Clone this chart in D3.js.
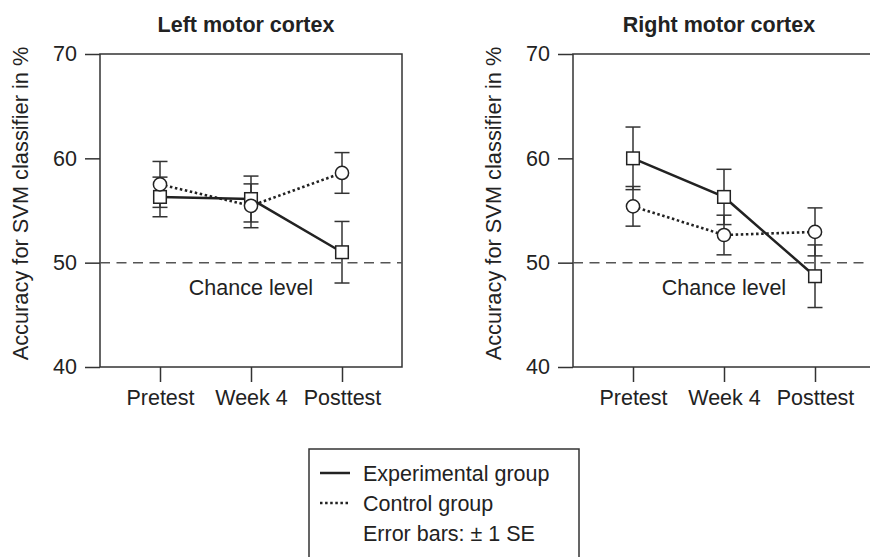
<!DOCTYPE html>
<html>
<head>
<meta charset="utf-8">
<script src="https://cdn.jsdelivr.net/npm/d3@7"></script>
<style>
  body { margin: 0; background: #fff; }
  svg text { font-family: "Liberation Sans", Arial, sans-serif; fill: #222; }
</style>
</head>
<body>
<svg class="chart" width="870" height="557"></svg>
<script>
// values
var phases = ["Pretest", "Week 4", "Posttest"];
var yTicks = [40, 50, 60, 70];
var chance = 50;

var leftExpMean  = [56.3, 56.1, 51.0],
    leftExpSE    = [1.9, 2.2, 2.95],
    leftCtrlMean = [57.5, 55.45, 58.6],
    leftCtrlSE   = [2.2, 2.1, 1.95];

var rightExpMean  = [60.0, 56.3, 48.7],
    rightExpSE    = [3.0, 2.65, 3.0],
    rightCtrlMean = [55.4, 52.65, 52.95],
    rightCtrlSE   = [1.9, 1.9, 2.3];

var panelTitles = ["Left motor cortex", "Right motor cortex"];
var yLabel = "Accuracy for SVM classifier in %";
var legendLabels = ["Experimental group", "Control group", "Error bars: \u00b1 1 SE"];

var svg = d3.select("svg.chart"),
    ink = "#222",
    fs = "21.5px";

var plotTop = 54, plotBottom = 367, boxW = 302;

var y = d3.scaleLinear().domain([40, 70]).range([plotBottom, plotTop]);

function drawPanel(x0, title, expMean, expSE, ctrlMean, ctrlSE){
  var g = svg.append("g");
  var x = d3.scalePoint().domain(phases).range([x0 + 60, x0 + 242]);

  // box
  g.append("rect")
    .attr("x", x0).attr("y", plotTop)
    .attr("width", boxW).attr("height", plotBottom - plotTop)
    .attr("fill", "none").attr("stroke", "#333").attr("stroke-width", 1.5);

  // axes
  var ya = g.append("g").attr("transform", "translate(" + x0 + ",0)")
    .call(d3.axisLeft(y).tickValues(yTicks).tickSize(15).tickPadding(8));
  var xa = g.append("g").attr("transform", "translate(0," + plotBottom + ")")
    .call(d3.axisBottom(x).tickSize(15).tickPadding(8));
  [ya, xa].forEach(function(a){
    a.select(".domain").remove();
    a.selectAll("line").attr("stroke", "#333").attr("stroke-width", 1.5);
    a.selectAll("text").attr("font-size", fs).attr("fill", ink)
      .attr("font-family", "Liberation Sans, Arial, sans-serif");
  });

  // chance level
  g.append("line")
    .attr("x1", x0).attr("x2", x0 + boxW)
    .attr("y1", y(chance)).attr("y2", y(chance))
    .attr("stroke", "#555").attr("stroke-width", 1.5)
    .attr("stroke-dasharray", "10,6.5");
  g.append("text")
    .attr("x", x("Week 4")).attr("y", 295)
    .attr("text-anchor", "middle").attr("font-size", fs)
    .text("Chance level");

  // title + y label
  g.append("text")
    .attr("x", x0 + boxW / 2 - 5).attr("y", 32)
    .attr("text-anchor", "middle").attr("font-size", fs)
    .attr("font-weight", "bold")
    .text(title);
  g.append("text")
    .attr("transform", "translate(" + (x0 - 72) + "," + ((plotTop + plotBottom) / 2 - 7) + ") rotate(-90)")
    .attr("text-anchor", "middle").attr("font-size", "21.8px")
    .text(yLabel);

  var line = d3.line()
    .x(function(d){ return x(d.phase); })
    .y(function(d){ return y(d.mean); });

  var exp = phases.map(function(p, i){ return {phase: p, mean: expMean[i], se: expSE[i]}; });
  var ctrl = phases.map(function(p, i){ return {phase: p, mean: ctrlMean[i], se: ctrlSE[i]}; });

  g.append("path").datum(exp).attr("d", line)
    .attr("fill", "none").attr("stroke", ink).attr("stroke-width", 2.5);
  g.append("path").datum(ctrl).attr("d", line)
    .attr("fill", "none").attr("stroke", ink).attr("stroke-width", 2.6)
    .attr("stroke-dasharray", "2.5,2.6");

  // error bars
  var bars = exp.concat(ctrl);
  var eb = g.selectAll(".eb").data(bars).enter().append("g").attr("class", "eb")
    .attr("stroke", "#333").attr("stroke-width", 1.5);
  eb.append("line")
    .attr("x1", function(d){ return x(d.phase); })
    .attr("x2", function(d){ return x(d.phase); })
    .attr("y1", function(d){ return y(d.mean - d.se); })
    .attr("y2", function(d){ return y(d.mean + d.se); });
  [-1, 1].forEach(function(s){
    eb.append("line")
      .attr("x1", function(d){ return x(d.phase) - 7.5; })
      .attr("x2", function(d){ return x(d.phase) + 7.5; })
      .attr("y1", function(d){ return y(d.mean + s * d.se); })
      .attr("y2", function(d){ return y(d.mean + s * d.se); });
  });

  // markers
  g.selectAll(".sq").data(exp).enter().append("rect").attr("class", "sq")
    .attr("x", function(d){ return x(d.phase) - 6.3; })
    .attr("y", function(d){ return y(d.mean) - 6.3; })
    .attr("width", 12.6).attr("height", 12.6)
    .attr("fill", "#fff").attr("stroke", ink).attr("stroke-width", 1.5);
  g.selectAll(".ci").data(ctrl).enter().append("circle").attr("class", "ci")
    .attr("cx", function(d){ return x(d.phase); })
    .attr("cy", function(d){ return y(d.mean); })
    .attr("r", 6.6)
    .attr("fill", "#fff").attr("stroke", ink).attr("stroke-width", 1.5);
}

drawPanel(100, panelTitles[0], leftExpMean, leftExpSE, leftCtrlMean, leftCtrlSE);
drawPanel(573, panelTitles[1], rightExpMean, rightExpSE, rightCtrlMean, rightCtrlSE);

// legend
var lg = svg.append("g");
lg.append("rect")
  .attr("x", 309).attr("y", 449).attr("width", 270).attr("height", 130)
  .attr("fill", "#fff").attr("stroke", "#333").attr("stroke-width", 1.5);
var rowY = [481, 511, 541];
lg.append("line").attr("x1", 320).attr("x2", 350).attr("y1", 473).attr("y2", 473)
  .attr("stroke", ink).attr("stroke-width", 2.5);
lg.append("line").attr("x1", 320).attr("x2", 350).attr("y1", 503).attr("y2", 503)
  .attr("stroke", ink).attr("stroke-width", 2.5).attr("stroke-dasharray", "2.5,2.6");
lg.selectAll("text.leg").data(legendLabels).enter().append("text").attr("class", "leg")
  .attr("x", 363).attr("y", function(d, i){ return rowY[i]; })
  .attr("font-size", fs)
  .text(function(d){ return d; });
</script>
</body>
</html>
